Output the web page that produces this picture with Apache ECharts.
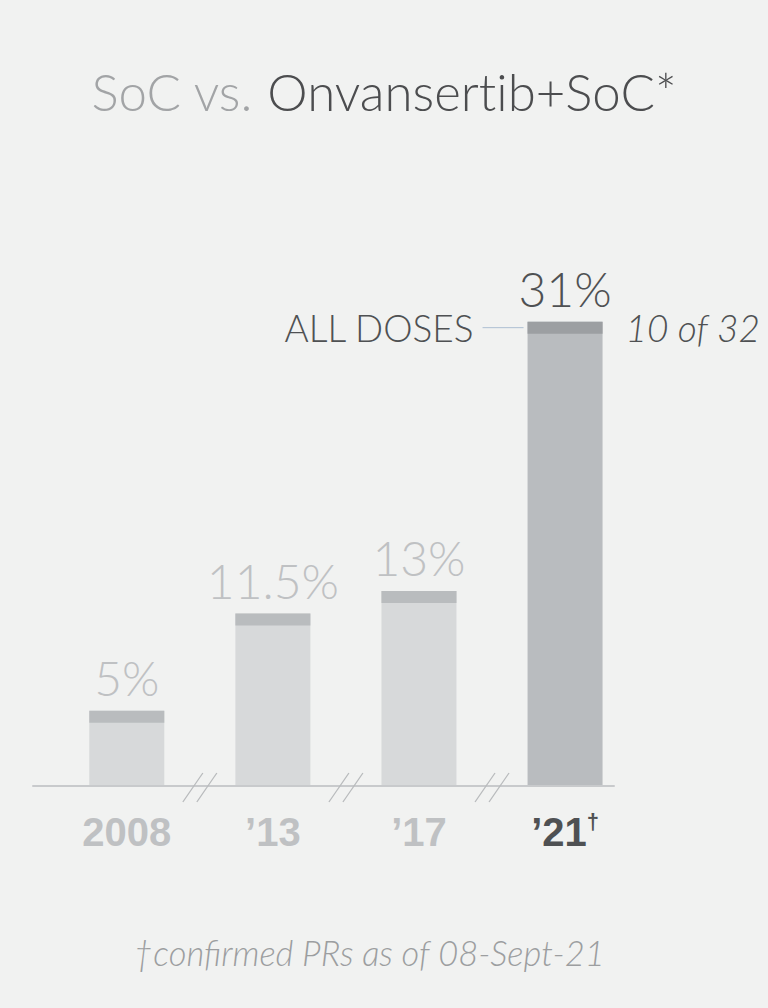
<!DOCTYPE html>
<html>
<head>
<meta charset="utf-8">
<title>SoC vs. Onvansertib+SoC*</title>
<script src="https://cdn.jsdelivr.net/npm/echarts@6/dist/echarts.min.js"></script>
<style>
  html, body { margin: 0; padding: 0; background: #f1f2f1; }
  #chart { width: 768px; height: 1008px; }
  #chart text { font-variant-ligatures: none; }
</style>
</head>
<body>
<div id="chart"></div>
<script>
// Response rates by year; the last year is the combination arm
const categories = ['2008', '\u201913', '\u201917', '\u201921'];
const rates = [5, 11.5, 13, 31];
const rateLabels = ['5%', '11.5%', '13%', '31%'];
const highlightIndex = 3;
const annotationLeft = 'ALL DOSES';
const annotationRight = '10 of 32';
const titleLead = 'SoC vs. ';
const titleMain = 'Onvansertib+SoC*';
const footnote = '\u2020confirmed PRs as of 08-Sept-21';

const BAR_WIDTH = 75;
const CAP_HEIGHT = 12;
const LIGHT_FONT = 'Lato, "Noto Sans", sans-serif';
const BOLD_FONT = '"Liberation Sans", Arial, sans-serif';

const palette = {
  body: '#d7d9da',
  cap: '#b9bcbe',
  bodyHi: '#b9bcbf',
  capHi: '#9c9fa2',
  labelLight: '#bfc1c3',
  labelDark: '#4f5153',
  axis: '#c8cacc',
  breakMark: '#b8babc',
  connector: '#aebfd2'
};

// break marks sit halfway between neighbouring bars
const breakPositions = categories.slice(1).map((_, i) => i + 0.5);

function renderBar(params, api) {
  const idx = params.dataIndex;
  const top = api.coord([api.value(0), api.value(1)]);
  const base = api.coord([api.value(0), 0]);
  const hi = idx === highlightIndex;
  const x0 = top[0] - BAR_WIDTH / 2;
  const children = [
    {
      type: 'rect',
      shape: { x: x0, y: top[1], width: BAR_WIDTH, height: base[1] - top[1] },
      style: { fill: hi ? palette.bodyHi : palette.body }
    },
    {
      type: 'rect',
      shape: { x: x0, y: top[1], width: BAR_WIDTH, height: CAP_HEIGHT },
      style: { fill: hi ? palette.capHi : palette.cap }
    },
    {
      type: 'text',
      style: {
        text: rateLabels[idx],
        x: top[0],
        y: top[1] - 33,
        align: 'center',
        verticalAlign: 'middle',
        font: '300 48px ' + LIGHT_FONT,
        fill: hi ? palette.labelDark : palette.labelLight
      }
    }
  ];
  if (hi) {
    const midY = top[1] + CAP_HEIGHT / 2;
    children.push(
      {
        type: 'line',
        shape: { x1: x0 - 45, y1: midY, x2: x0 - 4, y2: midY },
        style: { stroke: palette.connector, lineWidth: 1 }
      },
      {
        type: 'text',
        style: {
          text: annotationLeft,
          x: x0 - 54,
          y: midY,
          align: 'right',
          verticalAlign: 'middle',
          font: '300 37px ' + LIGHT_FONT,
          fill: palette.labelDark
        }
      },
      {
        type: 'text',
        style: {
          text: annotationRight,
          x: x0 + BAR_WIDTH + 23,
          y: midY,
          align: 'left',
          verticalAlign: 'middle',
          font: 'italic 300 37px ' + LIGHT_FONT,
          fill: palette.labelDark
        }
      }
    );
  }
  return { type: 'group', children: children };
}

function renderBreak(params, api) {
  const p = api.coord([api.value(0), 0]);
  const style = { stroke: palette.breakMark, lineWidth: 1.3 };
  return {
    type: 'group',
    children: [
      { type: 'line', shape: { x1: p[0] - 17, y1: p[1] + 16.5, x2: p[0] + 3, y2: p[1] - 12.5 }, style: style },
      { type: 'line', shape: { x1: p[0] - 3, y1: p[1] + 16.5, x2: p[0] + 17, y2: p[1] - 12.5 }, style: style }
    ]
  };
}

const chart = echarts.init(document.getElementById('chart'), null, { renderer: 'svg' });

chart.setOption({
  backgroundColor: '#f1f2f1',
  animation: false,
  title: {
    text: '{a|' + titleLead + '}{b|' + titleMain + '}',
    left: 'center',
    top: 66,
    padding: 0,
    textStyle: {
      rich: {
        a: { fontFamily: LIGHT_FONT, fontWeight: 300, fontSize: 51, lineHeight: 50, color: '#a2a4a6' },
        b: { fontFamily: LIGHT_FONT, fontWeight: 300, fontSize: 51, lineHeight: 50, color: '#4c4d4f' }
      }
    }
  },
  grid: { left: 33, right: 154, top: 187, bottom: 222.5 },
  xAxis: {
    type: 'value',
    min: -0.642,
    max: 3.335,
    z: 5,
    splitLine: { show: false },
    axisTick: { show: false },
    axisLine: { show: true, lineStyle: { color: palette.axis, width: 2 } },
    axisLabel: {
      customValues: categories.map((_, i) => i),
      margin: 25,
      formatter: function (v) {
        const i = Math.round(v);
        if (i === highlightIndex) return '{hi|' + categories[i] + '}{dag|\u2020}';
        return '{lo|' + categories[i] + '}';
      },
      rich: {
        lo: { fontFamily: BOLD_FONT, fontWeight: 'bold', fontSize: 40, lineHeight: 42, color: palette.labelLight },
        hi: { fontFamily: BOLD_FONT, fontWeight: 'bold', fontSize: 40, lineHeight: 42, color: palette.labelDark },
        dag: { fontFamily: BOLD_FONT, fontWeight: 'bold', fontSize: 22, lineHeight: 30, verticalAlign: 'top', color: palette.labelDark }
      }
    }
  },
  yAxis: {
    type: 'value',
    min: 0,
    max: 40,
    show: false,
    splitLine: { show: false }
  },
  series: [
    {
      type: 'custom',
      name: 'rates',
      renderItem: renderBar,
      encode: { x: 0, y: 1 },
      data: rates.map((v, i) => [i, v]),
      z: 2
    },
    {
      type: 'custom',
      name: 'breaks',
      renderItem: renderBreak,
      encode: { x: 0 },
      data: breakPositions.map(p => [p]),
      z: 6
    }
  ],
  graphic: [
    {
      type: 'text',
      x: 369,
      y: 952,
      style: {
        text: footnote,
        align: 'center',
        verticalAlign: 'middle',
        font: 'italic 300 34.5px ' + LIGHT_FONT,
        fill: '#9c9ea0'
      }
    }
  ]
});
</script>
</body>
</html>
